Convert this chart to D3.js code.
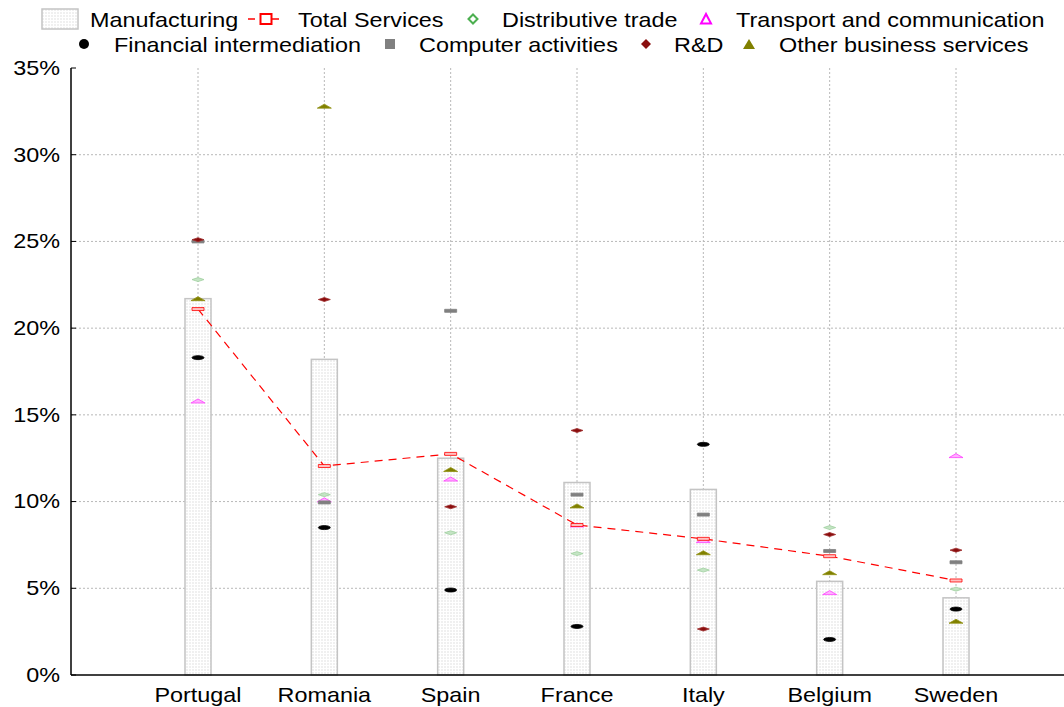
<!DOCTYPE html>
<html>
<head>
<meta charset="utf-8">
<script src="https://cdn.jsdelivr.net/npm/d3@7"></script>
<style>
  html, body { margin: 0; padding: 0; background: #fff; }
  svg { display: block; font-family: "Liberation Sans", Arial, sans-serif; }
</style>
</head>
<body>
<svg id="chart" width="1064" height="707"></svg>
<script>
// Sector shares by country (percent)
const countries = ["Portugal", "Romania", "Spain", "France", "Italy", "Belgium", "Sweden"];
const manufacturing = [21.7, 18.2, 12.5, 11.1, 10.7, 5.4, 4.45];
const totalServices = [21.1, 12.05, 12.75, 8.65, 7.85, 6.85, 5.45];
const distributiveTrade = [22.8, 10.4, 8.2, 7.0, 6.05, 8.5, 4.95];
const transportComm = [15.8, 10.1, 11.3, 8.65, 7.75, 4.75, 12.65];
const financialInterm = [18.3, 8.5, 4.9, 2.8, 13.3, 2.05, 3.8];
const computerActivities = [25.0, 9.95, 21.0, 10.4, 9.25, 7.15, 6.5];
const researchDev = [25.1, 21.65, 9.7, 14.1, 2.65, 8.1, 7.2];
const otherBusiness = [21.7, 32.8, 11.85, 9.75, 7.05, 5.9, 3.1];
const yTicks = [0, 5, 10, 15, 20, 25, 30, 35];
const yTickLabels = ["0%", "5%", "10%", "15%", "20%", "25%", "30%", "35%"];

const SX = 1.17;       // horizontal text stretch
const FONT = 20;

const svg = d3.select("#chart");
const plotLeft = 71, plotRight = 1064, plotTop = 68, plotBottom = 675;

const x = d3.scalePoint().domain(countries).range([198, 956]);
const y = d3.scaleLinear().domain([0, 35]).range([plotBottom, plotTop]);

// dotted fill used by the manufacturing bars
const defs = svg.append("defs");
const pat = defs.append("pattern").attr("id", "dots")
  .attr("patternUnits", "userSpaceOnUse").attr("width", 3).attr("height", 3);
pat.append("rect").attr("width", 3).attr("height", 3).attr("fill", "#fff");
pat.append("rect").attr("width", 2).attr("height", 2).attr("fill", "#f0f0f0");
const soft = defs.append("filter").attr("id", "soft");
soft.append("feGaussianBlur").attr("stdDeviation", 0.35);

function stretchText(sel, tx, ty) {
  sel.attr("transform", (d, i) => `translate(${tx(d, i)},${ty(d, i)}) scale(${SX},1)`);
}

// horizontal grid
svg.append("g").selectAll("line").data(yTicks.filter(t => t > 0 && t < 35)).join("line")
  .attr("x1", plotLeft).attr("x2", plotRight)
  .attr("y1", d => y(d)).attr("y2", d => y(d))
  .attr("stroke", "#b8b8b8").attr("stroke-width", 1).attr("stroke-dasharray", "2,2");

// vertical grid at each country
svg.append("g").selectAll("line").data(countries).join("line")
  .attr("x1", d => x(d)).attr("x2", d => x(d))
  .attr("y1", plotTop).attr("y2", plotBottom)
  .attr("stroke", "#b8b8b8").attr("stroke-width", 1).attr("stroke-dasharray", "2,2");

// manufacturing bars
const barW = 26;
svg.append("g").selectAll("rect").data(countries).join("rect")
  .attr("x", d => x(d) - barW / 2)
  .attr("y", (d, i) => y(manufacturing[i]))
  .attr("width", barW)
  .attr("height", (d, i) => y(0) - y(manufacturing[i]))
  .attr("fill", "url(#dots)")
  .attr("stroke", "#c4c4c4").attr("stroke-width", 1.5);

// total services line
const line = d3.line().x((d, i) => x(countries[i])).y(d => y(d));
svg.append("path").datum(totalServices)
  .attr("d", line)
  .attr("fill", "none").attr("stroke", "#ff0000")
  .attr("stroke-width", 1.2).attr("stroke-dasharray", "8,6");

// squashed point markers
const MW = 6, MH = 2;
const shapes = {
  diamond: (cx, cy) => `M${cx - MW},${cy}L${cx},${cy - MH}L${cx + MW},${cy}L${cx},${cy + MH}Z`,
  triangle: (cx, cy) => `M${cx - MW - 1},${cy + MH}L${cx},${cy - MH}L${cx + MW + 1},${cy + MH}Z`,
  rect: (cx, cy) => `M${cx - MW},${cy - 1.5}h${2 * MW}v3h${-2 * MW}Z`,
  ellipse: (cx, cy) => `M${cx - MW},${cy}a${MW},${MH} 0 1,0 ${2 * MW},0a${MW},${MH} 0 1,0 ${-2 * MW},0Z`
};
const pointSeries = [
  { values: distributiveTrade, shape: "diamond", fill: "#c4e4c4", stroke: "#9fd09f" },
  { values: transportComm, shape: "triangle", fill: "#ffb0ff", stroke: "#ff40ff" },
  { values: financialInterm, shape: "ellipse", fill: "#000", stroke: "#000" },
  { values: computerActivities, shape: "rect", fill: "#808080", stroke: "#808080" },
  { values: researchDev, shape: "diamond", fill: "#8b1010", stroke: "#a03030" },
  { values: otherBusiness, shape: "triangle", fill: "#808000", stroke: "#909010" },
  { values: totalServices, shape: "rect", fill: "#ffc0c0", stroke: "#ff0000" }
];
const markerG = svg.append("g").attr("filter", "url(#soft)");
pointSeries.forEach(s => {
  markerG.append("g").selectAll("path").data(s.values).join("path")
    .attr("d", (d, i) => shapes[s.shape](x(countries[i]), y(d)))
    .attr("fill", s.fill).attr("stroke", s.stroke).attr("stroke-width", 0.8);
});

// axes
svg.append("line").attr("x1", plotLeft).attr("x2", plotLeft).attr("y1", plotTop).attr("y2", plotBottom)
  .attr("stroke", "#000").attr("stroke-width", 1.5);
svg.append("line").attr("x1", plotLeft).attr("x2", plotRight).attr("y1", plotBottom).attr("y2", plotBottom)
  .attr("stroke", "#000").attr("stroke-width", 1.5);
svg.append("g").selectAll("line").data(yTicks).join("line")
  .attr("x1", plotLeft).attr("x2", plotLeft + 5)
  .attr("y1", d => y(d)).attr("y2", d => y(d))
  .attr("stroke", "#000").attr("stroke-width", 1);

// y tick labels
svg.append("g").selectAll("text").data(yTicks).join("text")
  .attr("font-size", FONT).attr("text-anchor", "end").attr("dominant-baseline", "central")
  .text((d, i) => yTickLabels[i])
  .call(stretchText, () => 60, d => y(d));

// category labels
svg.append("g").selectAll("text").data(countries).join("text")
  .attr("font-size", FONT).attr("text-anchor", "middle")
  .text(d => d)
  .call(stretchText, d => x(d), () => 702);

// legend
const legend = svg.append("g");
const legendItems = [
  { label: "Manufacturing", tx: 90, row: 0, sym: "box", sx: 60 },
  { label: "Total Services", tx: 298, row: 0, sym: "line", sx: 266 },
  { label: "Distributive trade", tx: 502, row: 0, sym: "diamondOpen", sx: 473, color: "#4caf50" },
  { label: "Transport and communication", tx: 736, row: 0, sym: "triangleOpen", sx: 706, color: "#ff00ff" },
  { label: "Financial intermediation", tx: 114, row: 1, sym: "circle", sx: 84, color: "#000" },
  { label: "Computer activities", tx: 419, row: 1, sym: "square", sx: 390, color: "#808080" },
  { label: "R&D", tx: 674, row: 1, sym: "diamond", sx: 646, color: "#8b1010" },
  { label: "Other business services", tx: 779, row: 1, sym: "triangle", sx: 749, color: "#808000" }
];
const rowBase = [27, 52];
const rowMid = [19, 44];
legendItems.forEach(it => {
  const cy = rowMid[it.row];
  const cx = it.sx;
  if (it.sym === "box") {
    legend.append("rect").attr("x", 42).attr("y", 9).attr("width", 36).attr("height", 20)
      .attr("fill", "url(#dots)").attr("stroke", "#c4c4c4").attr("stroke-width", 1.5);
  } else if (it.sym === "line") {
    legend.append("line").attr("x1", cx - 18).attr("x2", cx + 18).attr("y1", cy).attr("y2", cy)
      .attr("stroke", "#ff0000").attr("stroke-width", 1.5).attr("stroke-dasharray", "7,17");
    legend.append("rect").attr("x", cx - 5.5).attr("y", cy - 5).attr("width", 11).attr("height", 10)
      .attr("fill", "#fff").attr("stroke", "#ff0000").attr("stroke-width", 2);
  } else if (it.sym === "diamondOpen") {
    legend.append("path").attr("d", `M${cx - 4.5},${cy}L${cx},${cy - 4.5}L${cx + 4.5},${cy}L${cx},${cy + 4.5}Z`)
      .attr("fill", "#fff").attr("stroke", it.color).attr("stroke-width", 2);
  } else if (it.sym === "triangleOpen") {
    legend.append("path").attr("d", `M${cx - 5},${cy + 4.5}L${cx},${cy - 5}L${cx + 5},${cy + 4.5}Z`)
      .attr("fill", "#fff").attr("stroke", it.color).attr("stroke-width", 2);
  } else if (it.sym === "circle") {
    legend.append("circle").attr("cx", cx).attr("cy", cy).attr("r", 5).attr("fill", it.color);
  } else if (it.sym === "square") {
    legend.append("rect").attr("x", cx - 5).attr("y", cy - 5).attr("width", 10).attr("height", 10).attr("fill", it.color);
  } else if (it.sym === "diamond") {
    legend.append("path").attr("d", `M${cx - 5},${cy}L${cx},${cy - 5}L${cx + 5},${cy}L${cx},${cy + 5}Z`)
      .attr("fill", it.color);
  } else if (it.sym === "triangle") {
    legend.append("path").attr("d", `M${cx - 6},${cy + 5}L${cx},${cy - 5}L${cx + 6},${cy + 5}Z`)
      .attr("fill", it.color);
  }
  legend.append("text").datum(it)
    .attr("font-size", FONT)
    .text(it.label)
    .call(stretchText, d => d.tx, d => rowBase[d.row]);
});
</script>
</body>
</html>
